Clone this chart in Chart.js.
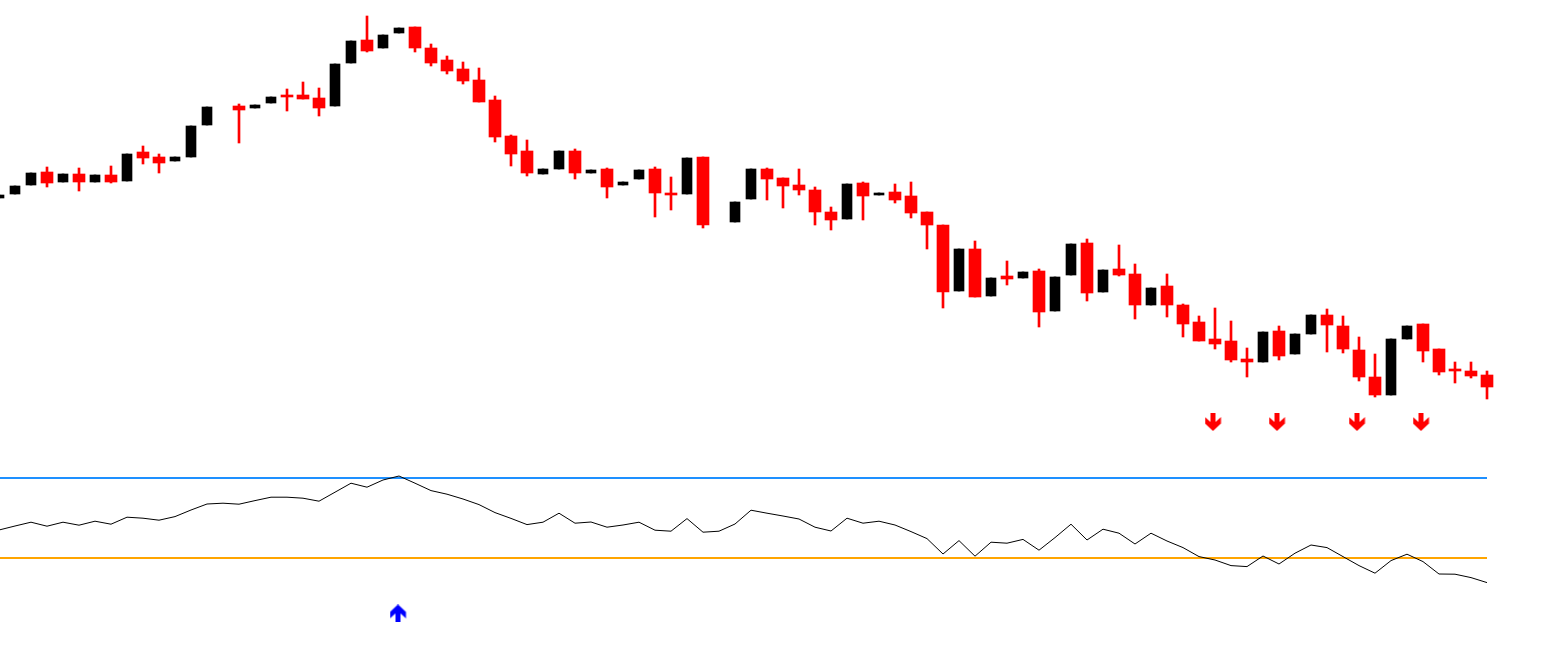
<!DOCTYPE html>
<html>
<head>
<meta charset="utf-8">
<script src="https://cdn.jsdelivr.net/npm/chart.js@4.4.0/dist/chart.umd.min.js"></script>
<style>
  body { margin: 0; background: #fff; }
  #wrap { width: 1549px; height: 649px; }
</style>
</head>
<body>
<div id="wrap"><canvas id="mycanvas"></canvas></div>
<script>
// price bars (null = no bar drawn)
var openP = [80.2,80.6,81.5,82.8,81.8,82.6,81.8,82.5,81.9,84.8,
  84.3,83.9,84.3,87.5,null,89.4,89.2,89.7,90.5,90.5,
  90.2,89.4,93.7,96.0,95.2,96.7,97.3,95.2,94.0,93.1,
  92.0,90.0,86.4,84.9,82.6,83.1,84.9,82.7,83.1,81.5,
  82.1,83.1,80.7,80.6,84.3,null,77.8,80.1,83.1,82.2,
  81.5,81.0,78.8,78.1,81.7,80.5,80.8,80.4,78.8,77.5,
  70.9,75.1,70.4,72.4,72.2,72.9,68.9,72.5,75.7,70.8,
  73.1,72.6,69.5,71.4,69.5,67.8,66.1,65.9,64.1,63.8,
  66.9,64.6,66.6,68.5,67.4,65.0,62.3,60.5,66.1,67.6,
  65.1,63.1,62.9,62.5];
var highP = [80.5,81.4,82.7,83.3,82.6,83.2,82.5,83.4,84.6,85.4,
  84.6,84.3,87.4,89.3,null,89.6,89.5,90.3,91.1,91.8,
  91.2,93.6,95.9,98.4,96.5,97.2,97.3,95.6,94.4,93.8,
  93.2,90.4,86.5,86.0,83.1,84.9,85.1,83.0,83.2,81.8,
  83.0,83.3,82.3,84.2,84.3,null,79.8,83.1,83.2,82.2,
  83.1,81.3,79.3,81.6,81.8,80.7,81.6,81.8,78.8,77.5,
  75.1,75.9,72.2,73.9,72.8,73.1,72.3,75.6,76.1,73.0,
  75.5,73.6,71.2,72.6,69.6,68.4,69.2,67.9,65.2,66.8,
  67.4,66.6,68.5,69.1,68.4,66.3,64.6,66.1,67.4,67.6,
  65.1,63.8,63.8,62.9];
var lowP = [80.2,80.6,81.5,81.3,81.8,80.9,81.8,81.7,81.9,83.6,
  82.7,83.9,84.3,87.5,null,85.7,89.2,89.7,88.9,90.1,
  88.4,89.4,93.7,94.8,95.2,96.7,94.8,93.4,92.6,91.6,
  89.8,85.8,83.4,82.4,82.6,83.1,82.1,82.7,80.2,81.5,
  82.1,78.3,79.0,80.6,77.2,null,77.8,80.1,80.0,79.2,
  80.5,77.5,77.0,78.1,78.0,80.5,79.7,78.2,75.1,69.2,
  70.9,70.3,70.4,71.5,72.2,67.3,68.9,72.5,69.9,70.8,
  72.4,68.1,69.5,68.3,66.3,65.9,65.1,63.8,62.3,63.8,
  64.0,64.6,66.6,64.8,64.7,61.9,60.3,60.5,66.1,63.8,
  62.5,61.7,62.2,60.1];
var closeP = [80.5,81.4,82.7,81.7,82.6,81.8,82.5,81.8,84.6,84.2,
  83.7,84.3,87.4,89.3,null,89.0,89.5,90.3,90.3,90.1,
  89.2,93.6,95.9,94.9,96.5,97.2,95.2,93.7,92.9,91.9,
  89.8,86.3,84.6,82.7,83.1,84.9,82.7,83.0,81.3,81.8,
  83.0,80.7,80.5,84.2,77.5,null,79.8,83.1,82.1,81.4,
  81.0,78.8,78.0,81.6,80.4,80.7,80.0,78.7,77.5,70.8,
  75.1,70.3,72.2,72.1,72.8,68.8,72.3,75.6,70.7,73.0,
  72.5,69.5,71.2,69.5,67.6,65.9,65.6,64.0,63.8,66.8,
  64.4,66.6,68.5,67.5,65.1,62.3,60.5,66.1,67.4,64.9,
  62.8,62.9,62.4,61.3];

// oscillator
var oscVals = [44.0,46.0,47.9,45.9,47.9,46.4,48.4,46.9,50.4,49.9,
  48.9,50.7,54.0,57.0,57.4,56.9,58.7,60.4,60.4,59.9,
  58.4,62.9,67.4,65.4,69.0,71.0,67.4,63.7,61.9,59.5,
  56.7,52.7,49.8,46.7,47.9,52.4,47.4,48.0,45.4,46.5,
  47.9,43.9,43.4,49.7,42.9,43.4,47.0,53.9,52.4,51.0,
  49.5,45.4,43.5,49.9,47.4,48.4,46.5,43.2,39.7,32.0,
  38.7,30.9,37.9,37.4,39.3,33.9,40.2,46.9,39.0,44.4,
  42.4,37.0,42.4,38.5,35.2,30.7,29.0,26.2,25.7,31.0,
  27.0,32.4,36.5,35.2,30.7,26.2,22.4,28.7,31.9,28.2,
  22.0,21.9,20.2,17.7];
var upperLevel = 70;
var lowerLevel = 30;

// signals
var sellIdx = [76, 80, 85, 89];
var sellLevel = 57.8;
var buyIdx = [25];
var buyLevel = 2.3;

var bullBody = [], bearBody = [], bullWick = [], bearWick = [], oscData = [];
for (var i = 0; i < openP.length; i++) {
  oscData.push({x: i, y: oscVals[i]});
  if (openP[i] === null) continue;
  if (closeP[i] >= openP[i]) {
    bullBody.push({x: i, y: [openP[i], closeP[i]]});
    bullWick.push({x: i, y: [lowP[i], highP[i]]});
  } else {
    bearBody.push({x: i, y: [openP[i], closeP[i]]});
    bearWick.push({x: i, y: [lowP[i], highP[i]]});
  }
}
var sellData = sellIdx.map(function(k) { return {x: k, y: sellLevel}; });
var buyData = buyIdx.map(function(k) { return {x: k, y: buyLevel}; });
var lastIdx = openP.length - 1;

// arrow glyph, drawn a bit left of the image centre like the original
function makeArrow(color, up, shift) {
  var c = document.createElement('canvas');
  c.width = 17 + 2 * shift; c.height = 18;
  var g = c.getContext('2d');
  if (up) { g.translate(0, 18); g.scale(1, -1); }
  g.fillStyle = color;
  g.beginPath();
  g.moveTo(6, 0); g.lineTo(11, 0); g.lineTo(11, 9); g.lineTo(16.5, 4);
  g.lineTo(16.5, 10.5); g.lineTo(8.5, 18); g.lineTo(0.5, 10.5); g.lineTo(0.5, 4);
  g.lineTo(6, 9); g.closePath();
  g.fill();
  return c;
}

var ctx = document.getElementById('mycanvas');
var chart = new Chart(ctx, {
  type: 'bar',
  data: {
    datasets: [
      { data: bearWick, backgroundColor: '#ff0000', barThickness: 2, grouped: false, yAxisID: 'yPrice', order: 3 },
      { data: bullWick, backgroundColor: '#000000', barThickness: 2, grouped: false, yAxisID: 'yPrice', order: 3 },
      { data: bearBody, backgroundColor: '#ff0000', barThickness: 12, grouped: false, yAxisID: 'yPrice', order: 2 },
      { data: bullBody, backgroundColor: '#000000', barThickness: 10, grouped: false, yAxisID: 'yPrice', order: 2 },
      { type: 'line', data: [{x: -1, y: upperLevel}, {x: lastIdx, y: upperLevel}], borderColor: '#1e90ff', borderWidth: 2, pointRadius: 0, yAxisID: 'yOsc', order: 1 },
      { type: 'line', data: [{x: -1, y: lowerLevel}, {x: lastIdx, y: lowerLevel}], borderColor: '#ffa500', borderWidth: 2, pointRadius: 0, yAxisID: 'yOsc', order: 1 },
      { type: 'line', data: oscData, borderColor: '#000000', borderWidth: 1, pointRadius: 0, tension: 0, yAxisID: 'yOsc', order: 0 },
      { type: 'line', data: sellData, showLine: false, pointStyle: makeArrow('#ff0000', false, 2), pointRadius: 8, yAxisID: 'yPrice', order: 0 },
      { type: 'line', data: buyData, showLine: false, pointStyle: makeArrow('#0000ff', true, 1), pointRadius: 8, yAxisID: 'yOsc', order: 0 }
    ]
  },
  options: {
    responsive: true,
    maintainAspectRatio: false,
    animation: false,
    layout: { padding: 0, autoPadding: false },
    plugins: { legend: { display: false }, tooltip: { enabled: false } },
    scales: {
      x: { type: 'linear', display: false, offset: false, min: 0.0625, max: 96.875 },
      yPrice: { type: 'linear', display: false, min: 35.1, max: 100 },
      yOsc: { type: 'linear', display: false, min: -15.5, max: 309 }
    }
  }
});
</script>
</body>
</html>
